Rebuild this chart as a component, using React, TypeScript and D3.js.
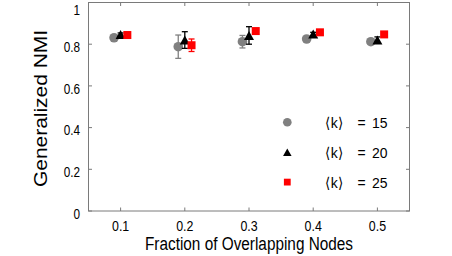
import * as d3 from 'd3';

const fractions = [0.1, 0.2, 0.3, 0.4, 0.5];
const nmiK15 = [0.831, 0.788, 0.812, 0.825, 0.812];
const errK15 = [0.008, 0.056, 0.03, 0.008, 0.01];
const nmiK20 = [0.846, 0.82, 0.842, 0.849, 0.82];
const errK20 = [0.008, 0.04, 0.042, 0.008, 0.015];
const nmiK25 = [0.844, 0.795, 0.863, 0.857, 0.847];
const errK25 = [0.006, 0.03, 0.006, 0.006, 0.006];
const xTicks = [0.1, 0.2, 0.3, 0.4, 0.5];
const yTicks = [0, 0.2, 0.4, 0.6, 0.8, 1];

type Shape = 'circle' | 'triangle' | 'square';
interface Series {
  k: number;
  values: number[];
  errors: number[];
  color: string;
  shape: Shape;
  dx: number;
}

const series: Series[] = [
  { k: 15, values: nmiK15, errors: errK15, color: '#808080', shape: 'circle', dx: -0.0102 },
  { k: 20, values: nmiK20, errors: errK20, color: '#000000', shape: 'triangle', dx: 0 },
  { k: 25, values: nmiK25, errors: errK25, color: '#ff0000', shape: 'square', dx: 0.0105 },
];

const W = 452;
const H = 256;
const left = 88.5;
const right = 409.5;
const top = 2.5;
const bottom = 211;
const FONT = "'Liberation Sans', Arial, sans-serif";
const AXIS = '#7a7a7a';

const x = d3.scaleLinear().domain([0.05, 0.55]).range([left, right]);
const y = d3.scaleLinear().domain([0, 1]).range([bottom, top]);

// text squeezed horizontally, like the narrow font of the original
function NText({ x, y, sx, anchor, size, children }: { x: number; y: number; sx: number; anchor?: string; size: number; children: any }) {
  return (
    <text transform={`translate(${x},${y}) scale(${sx},1)`} textAnchor={anchor ?? 'start'} fontSize={size} fill="#000">
      {children}
    </text>
  );
}

function Marker({ shape, cx, cy, color, s }: { shape: Shape; cx: number; cy: number; color: string; s: number }) {
  if (shape === 'circle') return <circle cx={cx} cy={cy} r={s * 0.48} fill={color} />;
  if (shape === 'square')
    return <rect x={cx - s * 0.4} y={cy - s * 0.4} width={s * 0.8} height={s * 0.8} fill={color} />;
  const h = s * 0.9;
  const w = s;
  return (
    <path
      d={`M${cx},${cy - h / 2}L${cx + w / 2},${cy + h / 2}L${cx - w / 2},${cy + h / 2}Z`}
      fill={color}
    />
  );
}

export default function App() {
  return (
    <svg
      width={W}
      height={H}
      style={{ position: 'absolute', left: 0, top: 0, background: '#fff' }}
      fontFamily={FONT}
    >
      {/* frame */}
      <rect x={left} y={top} width={right - left} height={bottom - top} fill="none" stroke={AXIS} strokeWidth={1} />
      {xTicks.map((t) => (
        <g key={`xt${t}`}>
          <line x1={x(t)} x2={x(t)} y1={bottom} y2={bottom - 3.5} stroke={AXIS} />
          <line x1={x(t)} x2={x(t)} y1={top} y2={top + 3.5} stroke={AXIS} />
          <NText x={x(t)} y={230.5} sx={0.8} anchor="middle" size={15.5}>
            {d3.format('.1f')(t)}
          </NText>
        </g>
      ))}
      {yTicks.map((t) => (
        <g key={`yt${t}`}>
          <line x1={left} x2={left + 3.5} y1={y(t)} y2={y(t)} stroke={AXIS} />
          <line x1={right} x2={right - 3.5} y1={y(t)} y2={y(t)} stroke={AXIS} />
          <NText x={80} y={Math.max(y(t) + 7.6, 14.5)} sx={0.76} anchor="end" size={15.5}>
            {t === 0 || t === 1 ? String(t) : d3.format('.1f')(t)}
          </NText>
        </g>
      ))}

      {/* data */}
      {series.map((s) => (
        <g key={s.k}>
          {fractions.map((f, i) => {
            const cx = x(f + s.dx);
            const lo = y(s.values[i] - s.errors[i]);
            const hi = y(s.values[i] + s.errors[i]);
            return (
              <g key={f} stroke={s.color} strokeWidth={1.3}>
                <line x1={cx} x2={cx} y1={lo} y2={hi} />
                <line x1={cx - 3} x2={cx + 3} y1={lo} y2={lo} />
                <line x1={cx - 3} x2={cx + 3} y1={hi} y2={hi} />
              </g>
            );
          })}
          {fractions.map((f, i) => (
            <Marker key={f} shape={s.shape} cx={x(f + s.dx)} cy={y(s.values[i])} color={s.color} s={10} />
          ))}
        </g>
      ))}

      {/* legend */}
      {series.map((s, i) => {
        const ly = 122.3 + i * 29.9;
        return (
          <g key={`lg${s.k}`}>
            <Marker shape={s.shape} cx={287.3} cy={ly} color={s.color} s={s.shape === 'circle' ? 9 : 8.5} />
            <NText x={325} y={ly + 5.5} sx={0.9} size={15.5}>
              {'\u27E8k\u27E9'}
            </NText>
            <NText x={357.5} y={ly + 5.5} sx={0.9} size={15.5}>
              =
            </NText>
            <NText x={372} y={ly + 5.5} sx={0.9} size={15.5}>
              {s.k}
            </NText>
          </g>
        );
      })}

      {/* axis titles */}
      <text
        x={(left + right) / 2}
        y={249.5}
        textAnchor="middle"
        fontSize={18}
        fill="#000"
        textLength={208}
        lengthAdjust="spacingAndGlyphs"
      >
        Fraction of Overlapping Nodes
      </text>
      <text
        transform={`translate(46.5,108.5) rotate(-90)`}
        textAnchor="middle"
        fontSize={19}
        fill="#000"
        textLength={157}
        lengthAdjust="spacingAndGlyphs"
      >
        Generalized NMI
      </text>
    </svg>
  );
}
